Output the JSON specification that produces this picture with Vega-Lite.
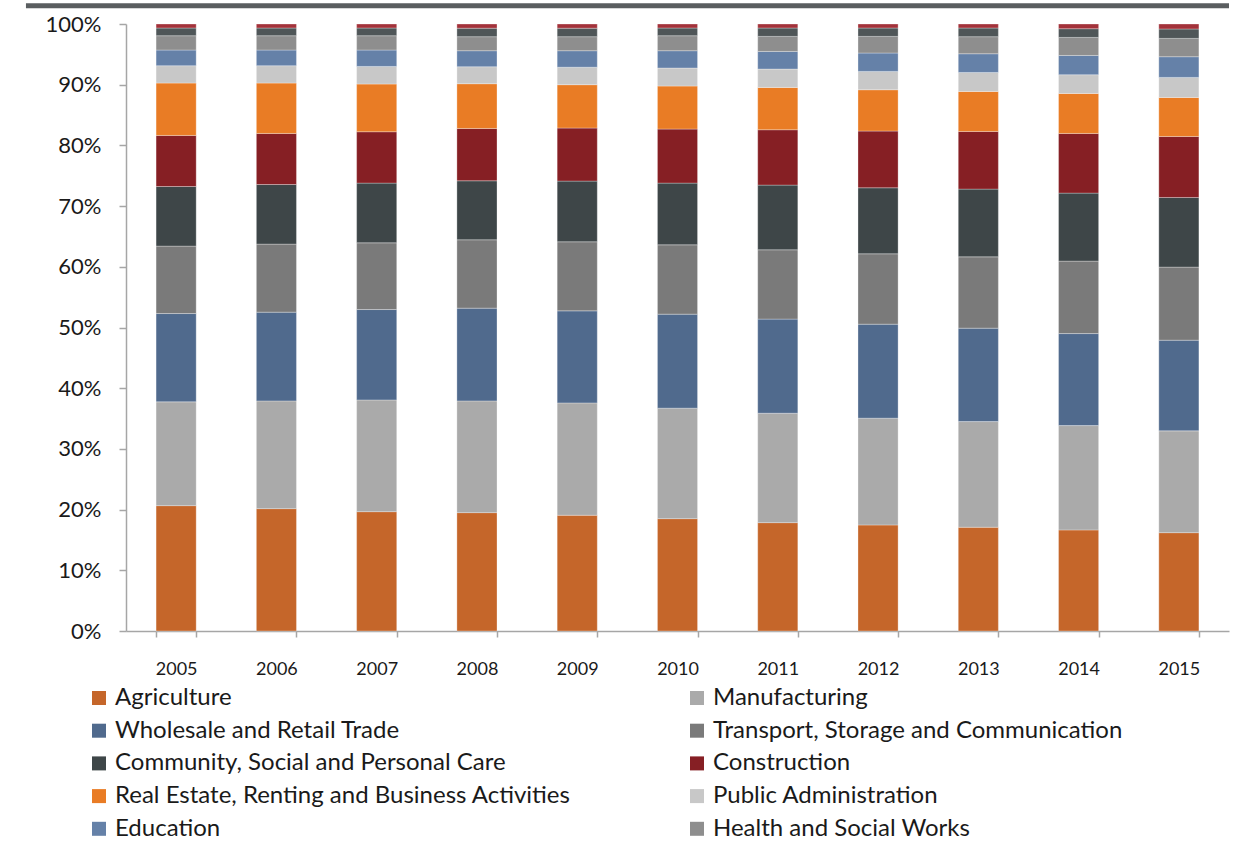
{
  "$schema": "https://vega.github.io/schema/vega-lite/v6.json",
  "width": 1103,
  "height": 607,
  "autosize": {"type": "none"},
  "padding": {"left": 126, "top": 24, "right": 10, "bottom": 210},
  "background": "#ffffff",
  "config": {
    "view": {"stroke": null},
    "font": "Lato",
    "axis": {"labelFont": "Lato", "labelColor": "#1a1a1a", "domainColor": "#a6a6a6", "tickColor": "#a6a6a6", "domainWidth": 1.5, "tickWidth": 1.5, "grid": false, "title": null},
    "legend": {"labelFont": "Lato", "labelColor": "#1a1a1a"}
  },
  "resolve": {"scale": {"x": "independent"}, "axis": {"x": "independent"}},
  "layer": [
    {
      "data": {"values": [
        {"year":"2005","sector":"Agriculture","share":20.65},{"year":"2005","sector":"Manufacturing","share":17.10},{"year":"2005","sector":"Wholesale and Retail Trade","share":14.55},{"year":"2005","sector":"Transport, Storage and Communication","share":11.11},{"year":"2005","sector":"Community, Social and Personal Care","share":9.82},{"year":"2005","sector":"Construction","share":8.41},{"year":"2005","sector":"Real Estate, Renting and Business Activities","share":8.63},{"year":"2005","sector":"Public Administration","share":2.86},{"year":"2005","sector":"Education","share":2.58},{"year":"2005","sector":"Health and Social Works","share":2.36},{"year":"2005","sector":"Hotels and Restaurants","share":1.27},{"year":"2005","sector":"Mining and Quarrying","share":0.66},
        {"year":"2006","sector":"Agriculture","share":20.16},{"year":"2006","sector":"Manufacturing","share":17.75},{"year":"2006","sector":"Wholesale and Retail Trade","share":14.62},{"year":"2006","sector":"Transport, Storage and Communication","share":11.21},{"year":"2006","sector":"Community, Social and Personal Care","share":9.82},{"year":"2006","sector":"Construction","share":8.41},{"year":"2006","sector":"Real Estate, Renting and Business Activities","share":8.30},{"year":"2006","sector":"Public Administration","share":2.86},{"year":"2006","sector":"Education","share":2.58},{"year":"2006","sector":"Health and Social Works","share":2.36},{"year":"2006","sector":"Hotels and Restaurants","share":1.27},{"year":"2006","sector":"Mining and Quarrying","share":0.66},
        {"year":"2007","sector":"Agriculture","share":19.66},{"year":"2007","sector":"Manufacturing","share":18.41},{"year":"2007","sector":"Wholesale and Retail Trade","share":14.89},{"year":"2007","sector":"Transport, Storage and Communication","share":10.99},{"year":"2007","sector":"Community, Social and Personal Care","share":9.84},{"year":"2007","sector":"Construction","share":8.46},{"year":"2007","sector":"Real Estate, Renting and Business Activities","share":7.86},{"year":"2007","sector":"Public Administration","share":2.90},{"year":"2007","sector":"Education","share":2.70},{"year":"2007","sector":"Health and Social Works","share":2.36},{"year":"2007","sector":"Hotels and Restaurants","share":1.27},{"year":"2007","sector":"Mining and Quarrying","share":0.66},
        {"year":"2008","sector":"Agriculture","share":19.50},{"year":"2008","sector":"Manufacturing","share":18.41},{"year":"2008","sector":"Wholesale and Retail Trade","share":15.28},{"year":"2008","sector":"Transport, Storage and Communication","share":11.26},{"year":"2008","sector":"Community, Social and Personal Care","share":9.72},{"year":"2008","sector":"Construction","share":8.62},{"year":"2008","sector":"Real Estate, Renting and Business Activities","share":7.37},{"year":"2008","sector":"Public Administration","share":2.80},{"year":"2008","sector":"Education","share":2.64},{"year":"2008","sector":"Health and Social Works","share":2.31},{"year":"2008","sector":"Hotels and Restaurants","share":1.40},{"year":"2008","sector":"Mining and Quarrying","share":0.69},
        {"year":"2009","sector":"Agriculture","share":19.07},{"year":"2009","sector":"Manufacturing","share":18.51},{"year":"2009","sector":"Wholesale and Retail Trade","share":15.16},{"year":"2009","sector":"Transport, Storage and Communication","share":11.38},{"year":"2009","sector":"Community, Social and Personal Care","share":10.00},{"year":"2009","sector":"Construction","share":8.74},{"year":"2009","sector":"Real Estate, Renting and Business Activities","share":7.14},{"year":"2009","sector":"Public Administration","share":2.88},{"year":"2009","sector":"Education","share":2.72},{"year":"2009","sector":"Health and Social Works","share":2.31},{"year":"2009","sector":"Hotels and Restaurants","share":1.40},{"year":"2009","sector":"Mining and Quarrying","share":0.69},
        {"year":"2010","sector":"Agriculture","share":18.51},{"year":"2010","sector":"Manufacturing","share":18.20},{"year":"2010","sector":"Wholesale and Retail Trade","share":15.49},{"year":"2010","sector":"Transport, Storage and Communication","share":11.42},{"year":"2010","sector":"Community, Social and Personal Care","share":10.17},{"year":"2010","sector":"Construction","share":8.90},{"year":"2010","sector":"Real Estate, Renting and Business Activities","share":7.09},{"year":"2010","sector":"Public Administration","share":2.97},{"year":"2010","sector":"Education","share":2.85},{"year":"2010","sector":"Health and Social Works","share":2.47},{"year":"2010","sector":"Hotels and Restaurants","share":1.27},{"year":"2010","sector":"Mining and Quarrying","share":0.66},
        {"year":"2011","sector":"Agriculture","share":17.85},{"year":"2011","sector":"Manufacturing","share":18.03},{"year":"2011","sector":"Wholesale and Retail Trade","share":15.50},{"year":"2011","sector":"Transport, Storage and Communication","share":11.42},{"year":"2011","sector":"Community, Social and Personal Care","share":10.66},{"year":"2011","sector":"Construction","share":9.12},{"year":"2011","sector":"Real Estate, Renting and Business Activities","share":6.97},{"year":"2011","sector":"Public Administration","share":3.03},{"year":"2011","sector":"Education","share":2.90},{"year":"2011","sector":"Health and Social Works","share":2.48},{"year":"2011","sector":"Hotels and Restaurants","share":1.38},{"year":"2011","sector":"Mining and Quarrying","share":0.66},
        {"year":"2012","sector":"Agriculture","share":17.47},{"year":"2012","sector":"Manufacturing","share":17.59},{"year":"2012","sector":"Wholesale and Retail Trade","share":15.49},{"year":"2012","sector":"Transport, Storage and Communication","share":11.59},{"year":"2012","sector":"Community, Social and Personal Care","share":10.88},{"year":"2012","sector":"Construction","share":9.34},{"year":"2012","sector":"Real Estate, Renting and Business Activities","share":6.81},{"year":"2012","sector":"Public Administration","share":3.02},{"year":"2012","sector":"Education","share":3.03},{"year":"2012","sector":"Health and Social Works","share":2.74},{"year":"2012","sector":"Hotels and Restaurants","share":1.38},{"year":"2012","sector":"Mining and Quarrying","share":0.66},
        {"year":"2013","sector":"Agriculture","share":17.09},{"year":"2013","sector":"Manufacturing","share":17.41},{"year":"2013","sector":"Wholesale and Retail Trade","share":15.39},{"year":"2013","sector":"Transport, Storage and Communication","share":11.75},{"year":"2013","sector":"Community, Social and Personal Care","share":11.16},{"year":"2013","sector":"Construction","share":9.50},{"year":"2013","sector":"Real Estate, Renting and Business Activities","share":6.59},{"year":"2013","sector":"Public Administration","share":3.13},{"year":"2013","sector":"Education","share":3.08},{"year":"2013","sector":"Health and Social Works","share":2.81},{"year":"2013","sector":"Hotels and Restaurants","share":1.43},{"year":"2013","sector":"Mining and Quarrying","share":0.66},
        {"year":"2014","sector":"Agriculture","share":16.65},{"year":"2014","sector":"Manufacturing","share":17.19},{"year":"2014","sector":"Wholesale and Retail Trade","share":15.16},{"year":"2014","sector":"Transport, Storage and Communication","share":11.94},{"year":"2014","sector":"Community, Social and Personal Care","share":11.20},{"year":"2014","sector":"Construction","share":9.83},{"year":"2014","sector":"Real Estate, Renting and Business Activities","share":6.59},{"year":"2014","sector":"Public Administration","share":3.08},{"year":"2014","sector":"Education","share":3.18},{"year":"2014","sector":"Health and Social Works","share":2.97},{"year":"2014","sector":"Hotels and Restaurants","share":1.44},{"year":"2014","sector":"Mining and Quarrying","share":0.77},
        {"year":"2015","sector":"Agriculture","share":16.20},{"year":"2015","sector":"Manufacturing","share":16.77},{"year":"2015","sector":"Wholesale and Retail Trade","share":14.94},{"year":"2015","sector":"Transport, Storage and Communication","share":12.04},{"year":"2015","sector":"Community, Social and Personal Care","share":11.47},{"year":"2015","sector":"Construction","share":10.05},{"year":"2015","sector":"Real Estate, Renting and Business Activities","share":6.43},{"year":"2015","sector":"Public Administration","share":3.30},{"year":"2015","sector":"Education","share":3.41},{"year":"2015","sector":"Health and Social Works","share":3.02},{"year":"2015","sector":"Hotels and Restaurants","share":1.55},{"year":"2015","sector":"Mining and Quarrying","share":0.82}
      ]},
      "transform": [
        {"calculate": "indexof(['Agriculture', 'Manufacturing', 'Wholesale and Retail Trade', 'Transport, Storage and Communication', 'Community, Social and Personal Care', 'Construction', 'Real Estate, Renting and Business Activities', 'Public Administration', 'Education', 'Health and Social Works', 'Hotels and Restaurants', 'Mining and Quarrying'], datum.sector)", "as": "stackRank"}
      ],
      "mark": {"type": "bar", "stroke": "#ffffff", "strokeWidth": 0.6, "strokeOpacity": 0.5},
      "encoding": {
        "x": {
          "field": "year", "type": "nominal",
          "scale": {"paddingInner": 0.6, "paddingOuter": 0.3},
          "axis": {"labelAngle": 0, "labelFontSize": 18, "tickBand": "extent", "tickSize": 6, "labelPadding": 23, "title": null}
        },
        "y": {
          "field": "share", "type": "quantitative", "stack": "normalize",
          "scale": {"domain": [0, 1]},
          "axis": {"values": [0, 0.1, 0.2, 0.3, 0.4, 0.5, 0.6, 0.7, 0.8, 0.9, 1], "format": ".0%", "labelFontSize": 22, "tickSize": 7, "labelPadding": 18, "title": null}
        },
        "order": {"field": "stackRank", "type": "quantitative", "sort": "ascending"},
        "color": {
          "field": "sector", "type": "nominal",
          "scale": {
            "domain": ["Agriculture", "Manufacturing", "Wholesale and Retail Trade", "Transport, Storage and Communication", "Community, Social and Personal Care", "Construction", "Real Estate, Renting and Business Activities", "Public Administration", "Education", "Health and Social Works", "Hotels and Restaurants", "Mining and Quarrying"],
            "range": ["#c5662a", "#aaaaaa", "#506a8d", "#7a7a7a", "#3e4648", "#861f24", "#e97c25", "#c8c8c8", "#6581a8", "#8e8e8e", "#4f5658", "#a3323a"]
          },
          "legend": {
            "values": ["Agriculture", "Manufacturing", "Wholesale and Retail Trade", "Transport, Storage and Communication", "Community, Social and Personal Care", "Construction", "Real Estate, Renting and Business Activities", "Public Administration", "Education", "Health and Social Works"],
            "orient": "none", "legendX": -39, "legendY": 662, "direction": "horizontal",
            "columns": 2, "columnPadding": 114, "rowPadding": 8.7, "padding": 0,
            "symbolType": "square", "symbolSize": 196, "symbolStrokeWidth": 0, "symbolOffset": 0,
            "labelFontSize": 24, "labelOffset": 4, "labelLimit": 600, "title": null
          }
        }
      }
    },
    {
      "data": {"values": [{"band": "top"}]},
      "mark": {"type": "rule", "color": "#5a5e60", "strokeWidth": 5},
      "encoding": {
        "y": {"datum": 1.03, "type": "quantitative"},
        "x": {"datum": -0.0907, "type": "quantitative", "scale": {"domain": [0, 1]}, "axis": null},
        "x2": {"datum": 1}
      }
    }
  ]
}
